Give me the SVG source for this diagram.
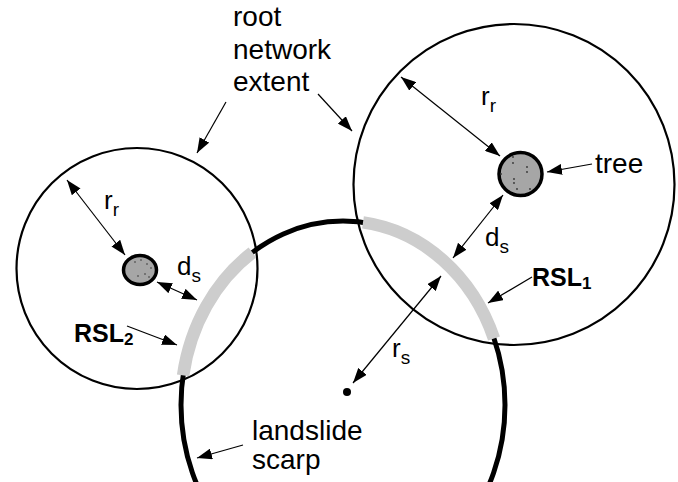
<svg xmlns="http://www.w3.org/2000/svg" width="678" height="482" viewBox="0 0 678 482">
<defs>
<style>
.t{font-family:"Liberation Sans",Arial,sans-serif;fill:#000}
.lbl{font-size:28px}
.sym{font-size:26px}
.sub{font-size:19px}
.b{font-weight:bold;font-size:25px}
.thin{fill:none;stroke:#000;stroke-width:1.2}
.arr{marker-end:url(#ah)}
.dbl{marker-start:url(#ah);marker-end:url(#ah)}
.root{fill:none;stroke:#000;stroke-width:2.2}
.tree{fill:#a6a6a6;stroke:#000;stroke-width:3.5}
.dot{fill:#333}
.rsl{fill:none;stroke:#cdcdcd;stroke-width:12.5;stroke-linecap:butt}
</style>
<marker id="ah" viewBox="0 0 15 11" refX="15" refY="5.5" markerWidth="15" markerHeight="11" markerUnits="userSpaceOnUse" orient="auto-start-reverse">
<path d="M0,0 L15,5.5 L0,11 z" fill="#000"/>
</marker>
</defs>
<g id="scarp">
<ellipse cx="343" cy="405" rx="162" ry="184" fill="none" stroke="#000" stroke-width="5"/>
<circle cx="347" cy="392" r="4" fill="#000"/>
</g>
<g id="root-left">
<circle class="root" cx="137" cy="268.5" r="120.5"/>
</g>
<g id="root-right">
<circle class="root" cx="514" cy="184.5" r="160.5"/>
</g>
<g id="rsl2">
<path class="rsl" d="M252.4 252.5 A162 184 0 0 0 183.1 375.3"/>
</g>
<g id="rsl1">
<path class="rsl" d="M363 222.4 A162 184 0 0 1 494 338.5"/>
</g>
<g id="tree-left">
<ellipse class="tree" cx="140" cy="270" rx="16.5" ry="14.5"/>
<g class="dot"><circle cx="135" cy="262" r="0.8"/><circle cx="141" cy="260" r="0.8"/><circle cx="147" cy="264" r="0.8"/><circle cx="151" cy="268" r="0.8"/><circle cx="138" cy="276" r="0.8"/><circle cx="145" cy="274" r="0.8"/><circle cx="149" cy="277" r="0.8"/></g>
</g>
<g id="tree-right">
<circle class="tree" cx="520.5" cy="174" r="21.5"/>
<g class="dot"><circle cx="513" cy="157" r="0.9"/><circle cx="513" cy="163" r="0.9"/><circle cx="527" cy="167" r="0.9"/><circle cx="527" cy="172" r="0.9"/><circle cx="514" cy="179" r="0.9"/><circle cx="514" cy="183" r="0.9"/><circle cx="517" cy="189" r="0.9"/><circle cx="530" cy="189" r="0.9"/><circle cx="501" cy="174" r="0.9"/></g>
</g>
<g id="connectors">
<line class="thin arr" x1="226" y1="102" x2="197" y2="153"/>
<line class="thin arr" x1="318" y1="94" x2="352" y2="131"/>
<line class="thin dbl" x1="67" y1="180" x2="125" y2="255"/>
<line class="thin dbl" x1="157" y1="282" x2="197" y2="300"/>
<line class="thin arr" x1="127" y1="326" x2="177" y2="345"/>
<line class="thin arr" x1="243" y1="445" x2="197" y2="458"/>
<line class="thin dbl" x1="401" y1="77" x2="500" y2="156"/>
<line class="thin arr" x1="592" y1="164" x2="547" y2="172"/>
<line class="thin dbl" x1="503" y1="195" x2="453" y2="258"/>
<line class="thin arr" x1="532" y1="277" x2="488" y2="303"/>
<line class="thin dbl" x1="441" y1="276" x2="353" y2="383"/>
</g>
<g id="labels">
<text class="t lbl" x="233" y="26">root</text>
<text class="t lbl" x="233" y="59">network</text>
<text class="t lbl" x="233" y="91">extent</text>
<text class="t lbl" x="252" y="440">landslide</text>
<text class="t lbl" x="252" y="469">scarp</text>
<text class="t lbl" x="595" y="173">tree</text>
<text class="t sym" x="104" y="209">r<tspan class="sub" dy="7">r</tspan></text>
<text class="t sym" x="481" y="105">r<tspan class="sub" dy="7">r</tspan></text>
<text class="t sym" x="177" y="275">d<tspan class="sub" dy="7">s</tspan></text>
<text class="t sym" x="485" y="246">d<tspan class="sub" dy="7">s</tspan></text>
<text class="t sym" x="392" y="357">r<tspan class="sub" dy="7">s</tspan></text>
<text class="t b" x="74" y="342">RSL<tspan font-weight="bold" font-size="17" dy="3">2</tspan></text>
<text class="t b" x="532" y="286">RSL<tspan font-weight="bold" font-size="17" dy="3">1</tspan></text>
</g>
</svg>
